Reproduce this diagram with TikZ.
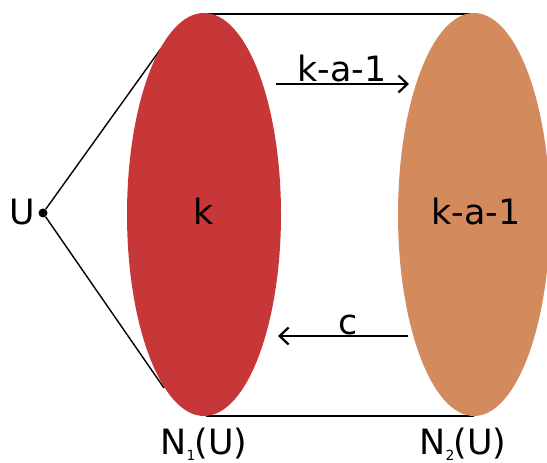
\documentclass[tikz,border=0pt]{standalone}
\usepackage{fontspec}
\setmainfont{DejaVu Sans}
\usetikzlibrary{arrows.meta}
\definecolor{redfill}{RGB}{200,55,56}
\definecolor{orangefill}{RGB}{211,139,93}
\begin{document}
\begin{tikzpicture}[x=1bp,y=-1bp,
  lbl/.style={font=\fontsize{35}{40}\selectfont, inner sep=0pt},
  conn/.style={line width=1.4bp, black},
  arr/.style={line width=2.2bp, black, -{Straight Barb[length=9bp,width=17bp,line width=2.2bp]}}]
\useasboundingbox (0,0) rectangle (547,463);
\clip (0,0) rectangle (547,463);
% outline connectors behind
\coordinate (rt) at (206,14);
\coordinate (ot) at (474,14);
\coordinate (rb) at (206,416);
\coordinate (ob) at (474,416);
\coordinate (ut) at (170,36);
\coordinate (ub) at (164,388);
\draw[conn] (rt) -- (ot);
\draw[conn] (rb) -- (ob);
\node[circle, fill=black, inner sep=0pt, minimum size=9bp] (u) at (43,213) {};
\draw[conn] (u) -- (ut);
\draw[conn] (u) -- (ub);
\fill[redfill] (204,214.5) ellipse [x radius=77, y radius=201.5];
\fill[orangefill] (474,214.5) ellipse [x radius=76, y radius=201.5];
\node[lbl, anchor=base] (ulbl) at (22,225) {U};
\node[lbl, anchor=base] (k) at (204,225) {k};
\node[lbl, anchor=base] (k2) at (476,225) {k-a-1};
\coordinate (a1s) at (276,84);
\coordinate (a1e) at (409,84);
\coordinate (a2s) at (408,336);
\coordinate (a2e) at (278,336);
\draw[arr] (a1s) -- (a1e);
\draw[arr] (a2s) -- (a2e);
\node[lbl, anchor=base] (lbl1) at (342,82) {k-a-1};
\node[lbl, anchor=base] (lbl2) at (348,334) {c};
\node[lbl, anchor=base] (n1) at (204,454) {N\kern0bp\raisebox{-6bp}{\fontsize{14}{15}\selectfont 1}\kern-1bp(U)};
\node[lbl, anchor=base] (n2) at (463,454) {N\kern0bp\raisebox{-6bp}{\fontsize{14}{15}\selectfont 2}\kern-1bp(U)};
\end{tikzpicture}
\end{document}
